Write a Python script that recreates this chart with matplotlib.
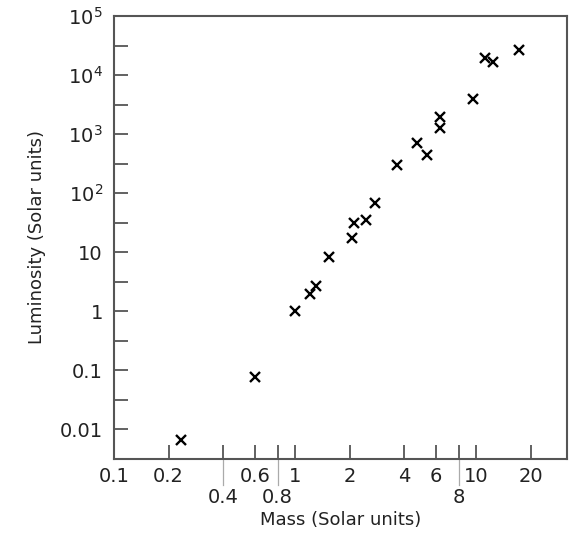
import matplotlib
matplotlib.use("Agg")
import matplotlib.pyplot as plt
import matplotlib.transforms as mtransforms
from matplotlib.ticker import FixedLocator, NullFormatter
import numpy as np

# Масса и светимость звёзд (в солнечных единицах)
mass = [0.234, 0.60, 1.0, 1.2, 1.3, 1.54, 2.07, 2.12, 2.47, 2.77,
        3.66, 4.72, 5.36, 6.32, 6.32, 9.62, 11.1, 12.4, 17.1]
luminosity = [0.0065, 0.076, 1.0, 1.94, 2.66, 8.3, 17.4, 31.2, 35.1, 68.2,
              301, 711, 445, 1967, 1279, 3975, 19700, 16900, 27000]

x_ticks = [0.1, 0.2, 0.4, 0.6, 0.8, 1, 2, 4, 6, 8, 10, 20]
x_labels = ['0.1', '0.2', '0.4', '0.6', '0.8', '1', '2', '4', '6', '8', '10', '20']
x_low = ['0.4', '0.8', '8']  # подписи, опущенные на второй ряд

y_ticks = [0.01, 0.1, 1, 10, 1e2, 1e3, 1e4, 1e5]
y_labels = ['0.01', '0.1', '1', '10', '$10^2$', '$10^3$', '$10^4$', '$10^5$']

edge = '#555555'
txt = '#222222'

plt.rcParams['font.family'] = ['DejaVu Sans']
plt.rcParams['mathtext.fontset'] = 'dejavusans'

fig = plt.figure(figsize=(5.74, 5.37), dpi=100)
ax = fig.add_axes([0.1986, 0.1453, 0.7892, 0.8249])

ax.plot(mass, luminosity, linestyle='none', marker='x', color='black',
        markersize=7.5, markeredgewidth=1.7)

ax.set_xscale('log')
ax.set_yscale('log')
ax.set_xlim(10 ** -1, 10 ** 1.5)
ax.set_ylim(10 ** -2.5, 10 ** 5)

# Ось X: часть подписей вверху, часть внизу
ax.xaxis.set_major_locator(FixedLocator(x_ticks))
ax.xaxis.set_minor_locator(FixedLocator([]))
ax.set_xticklabels([lab if lab not in x_low else '' for lab in x_labels])

trans = mtransforms.blended_transform_factory(ax.transData, ax.transAxes)
for val, lab in zip(x_ticks, x_labels):
    if lab in x_low:
        ax.plot([val, val], [0, -0.058], transform=trans, color='#aaaaaa',
                lw=0.9, clip_on=False)
        ax.text(val, -0.088, lab, transform=trans, ha='center', va='center',
                fontsize=14, color=txt)

# Ось Y
ax.yaxis.set_major_locator(FixedLocator(y_ticks))
ax.set_yticklabels(y_labels)
ax.yaxis.set_minor_locator(FixedLocator([10 ** (k + 0.5) for k in range(-3, 5)]))
ax.yaxis.set_minor_formatter(NullFormatter())

ax.tick_params(which='both', direction='in', length=10, width=1.3,
               color=edge, labelsize=14, labelcolor=txt)
ax.tick_params(axis='x', pad=6)
ax.tick_params(axis='y', pad=8)

for sp in ax.spines.values():
    sp.set_color(edge)
    sp.set_linewidth(1.5)

ax.set_xlabel('Mass (Solar units)', fontsize=13, color=txt, labelpad=18)
ax.set_ylabel('Luminosity (Solar units)', fontsize=13, color=txt, labelpad=10)

fig.savefig('out.png', dpi=100)
